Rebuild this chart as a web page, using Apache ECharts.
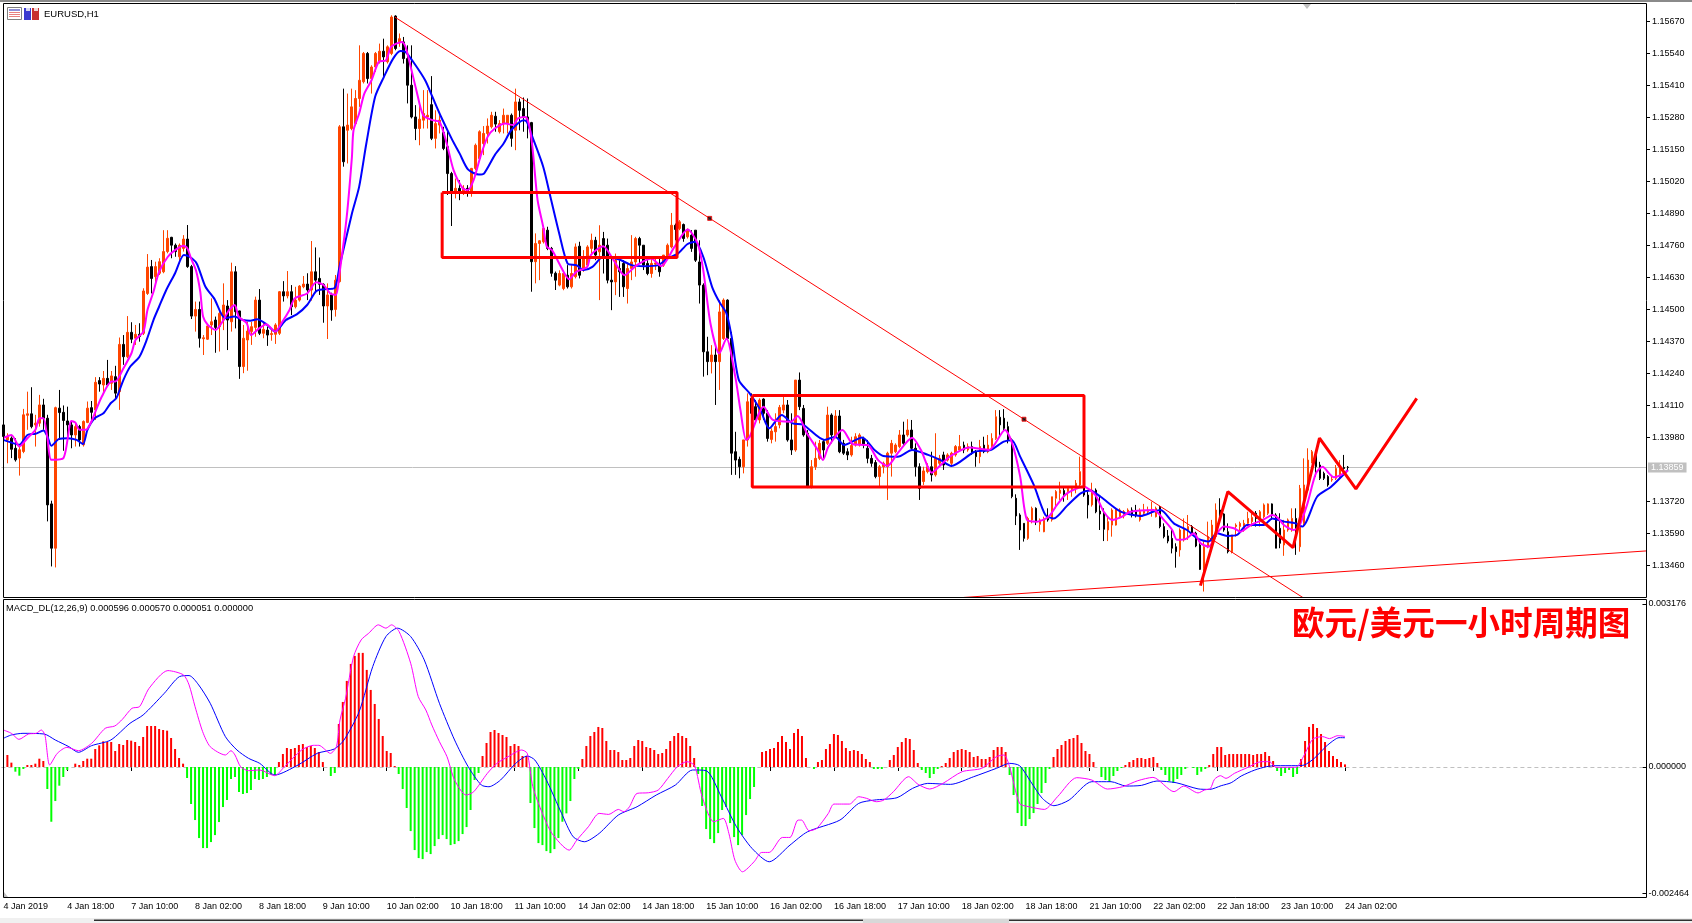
<!DOCTYPE html>
<html>
<head>
<meta charset="utf-8">
<style>html,body{margin:0;padding:0;background:#fff}#chart{width:1692px;height:923px}</style>
<script src="https://cdn.jsdelivr.net/npm/echarts@6/dist/echarts.min.js"></script>
</head>
<body>
<div id="chart"></div>
<script>
// EURUSD H1 candles, in points (1 point = 0.00001): [open, close, low, high]
const candlePoints = [
[114032,113985,113978,114039],[113971,113985,113876,113998],[113978,113933,113897,113985],[113937,113890,113883,113978],[113897,113931,113826,113944],
[113924,114073,113917,114097],[114071,114077,114012,114167],[114077,114025,114018,114185],[114032,114039,113944,114073],[114039,114113,114025,114154],
[114113,114059,114012,114138],[114059,113707,113640,114073],[113711,113531,113457,113724],[113531,114102,113453,114106],[114100,114082,113971,114174],
[114083,114050,113927,114111],[114048,114032,113958,114106],[114032,113991,113937,114046],[113991,114025,113944,114039],[114025,113971,113944,114032],
[113951,114046,113944,114050],[114042,114100,114039,114127],[114102,114083,114046,114129],[114093,114205,114052,114226],[114212,114198,114167,114226],
[114194,114221,114161,114251],[114221,114194,114188,114296],[114201,114231,114174,114251],[114228,114161,114140,114272],[114167,114359,114093,114387],
[114359,114309,114276,114397],[114309,114408,114303,114474],[114408,114380,114364,114449],[114384,114400,114357,114438],[114400,114391,114370,114445],
[114404,114576,114397,114587],[114566,114673,114560,114726],[114675,114627,114566,114702],[114634,114675,114607,114695],[114648,114695,114641,114709],
[114654,114736,114648,114823],[114736,114790,114729,114823],[114794,114762,114709,114796],[114762,114736,114715,114769],[114715,114762,114688,114769],
[114749,114787,114736,114803],[114787,114675,114670,114844],[114675,114474,114462,114682],[114474,114501,114411,114533],[114501,114384,114346,114533],
[114382,114386,114316,114397],[114380,114434,114377,114438],[114438,114451,114397,114546],[114458,114428,114325,114472],[114431,114485,114330,114492],
[114458,114519,114417,114607],[114515,114458,114336,114539],[114451,114654,114411,114691],[114654,114492,114424,114677],[114495,114269,114219,114496],
[114269,114384,114242,114438],[114377,114413,114252,114451],[114411,114431,114357,114451],[114428,114539,114390,114553],[114539,114404,114397,114584],
[114404,114420,114384,114451],[114417,114397,114353,114431],[114399,114403,114374,114417],[114400,114438,114361,114445],[114404,114573,114397,114576],
[114573,114556,114533,114616],[114556,114573,114546,114657],[114573,114512,114478,114600],[114512,114539,114505,114593],[114539,114596,114533,114600],
[114593,114604,114587,114637],[114604,114580,114539,114648],[114580,114654,114537,114779],[114654,114620,114573,114753],[114627,114603,114560,114712],
[114603,114515,114447,114607],[114515,114560,114381,114607],[114560,114499,114455,114569],[114501,114620,114472,114641],[114614,115243,114610,115250],
[115243,115101,115081,115398],[115229,115250,115094,115378],[115236,115324,115229,115398],[115256,115358,115250,115392],[115358,115432,115324,115574],
[115426,115541,115419,115547],[115541,115439,115419,115547],[115439,115486,115378,115493],[115486,115541,115466,115547],[115507,115550,115500,115581],
[115550,115527,115446,115601],[115507,115568,115500,115574],[115541,115689,115534,115696],[115693,115561,115554,115696],[115588,115601,115568,115622],
[115588,115520,115500,115608],[115520,115412,115338,115574],[115412,115283,115277,115574],[115283,115236,115189,115331],[115236,115274,115168,115331],
[115270,115297,115236,115392],[115283,115290,115236,115392],[115333,115196,115189,115449],[115196,115256,115155,115310],[115250,115270,115216,115290],
[115220,115155,115148,115243],[115162,115053,114966,115229],[115053,114979,114840,115060],[114979,114993,114952,115033],[114993,114979,114945,115026],
[114979,114993,114966,115006],[114993,114982,114959,115006],[114979,115074,114959,115076],[115074,115168,115067,115175],[115114,115223,115108,115229],
[115175,115216,115128,115246],[115216,115246,115175,115277],[115243,115290,115236,115304],[115286,115254,115223,115304],[115223,115256,115216,115270],
[115256,115290,115216,115317],[115256,115290,115216,115290],[115290,115196,115162,115297],[115229,115344,115148,115398],[115344,115310,115229,115358],
[115317,115283,115223,115362],[115283,115263,115196,115358],[115260,114695,114573,115263],[114695,114769,114607,114810],[114769,114780,114620,114783],
[114776,114830,114769,114837],[114823,114749,114742,114837],[114749,114648,114634,114755],[114648,114620,114580,114655],[114600,114647,114595,114660],
[114586,114647,114579,114654],[114640,114593,114586,114681],[114593,114647,114586,114681],[114634,114755,114627,114769],[114758,114640,114627,114776],
[114661,114715,114654,114742],[114681,114755,114674,114762],[114749,114782,114722,114809],[114782,114722,114701,114796],[114735,114762,114539,114843],
[114789,114715,114647,114816],[114762,114620,114607,114789],[114620,114613,114498,114708],[114613,114701,114559,114728],[114667,114654,114552,114701],
[114688,114593,114552,114701],[114586,114667,114525,114688],[114667,114694,114620,114803],[114694,114789,114634,114796],[114789,114762,114688,114796],
[114762,114681,114661,114762],[114688,114647,114640,114701],[114647,114688,114630,114715],[114685,114690,114661,114715],[114688,114654,114634,114708],
[114681,114722,114674,114722],[114717,114762,114708,114769],[114755,114843,114749,114893],[114843,114826,114782,114850],[114830,114857,114823,114864],
[114846,114789,114776,114850],[114796,114826,114789,114830],[114803,114749,114735,114823],[114823,114701,114694,114823],[114694,114600,114525,114782],
[114600,114329,114228,114607],[114329,114289,114234,114390],[114289,114316,114241,114356],[114316,114289,114113,114349],[114289,114491,114174,114539],
[114383,114539,114377,114546],[114539,114383,114377,114542],[114383,113917,113829,114410],[113923,113889,113829,114004],[113892,113862,113815,113903],
[113862,113971,113835,113971],[113971,114126,113944,114160],[114140,114079,114038,114160],[114106,114052,114045,114133],[114052,114133,114038,114140],
[114137,114079,114052,114140],[114079,113977,113964,114092],[113973,114007,113957,114018],[114004,114025,113964,114079],[114032,114103,114018,114113],
[114092,114113,114079,114147],[114113,113971,113964,114133],[113971,113930,113910,114079],[113930,114214,113923,114214],[114214,114106,114092,114245],
[114099,113991,113984,114113],[113998,113781,113775,114011],[113781,113862,113774,113889],[113862,113896,113849,113964],[113896,113957,113889,113971],
[113964,113930,113896,113971],[113957,114072,113950,114106],[114072,113991,113957,114079],[113984,114068,113977,114092],[114068,113923,113917,114092],
[113957,113917,113910,113971],[113923,113910,113889,113937],[113910,113948,113903,113984],[113950,113984,113944,113998],[113950,113991,113944,113998],
[113977,113950,113937,113984],[113937,113896,113876,113971],[113896,113876,113862,113910],[113879,113822,113815,113889],[113822,113862,113781,113869],
[113862,113876,113835,113883],[113862,113917,113727,113923],[113917,113957,113822,113971],[113923,113950,113917,113957],[113944,113991,113937,114011],
[113991,113957,113944,114045],[113991,114011,113984,114055],[114011,113937,113930,114052],[113937,113862,113822,113957],[113862,113774,113727,113876],
[113802,113845,113788,113862],[113842,113862,113835,113876],[113862,113829,113802,113923],[113829,113896,113822,113998],[113876,113896,113862,113910],
[113910,113869,113849,113923],[113889,113910,113883,113917],[113876,113917,113862,113923],[113910,113944,113903,113950],[113930,113944,113923,113991],
[113950,113930,113917,113964],[113930,113944,113923,113957],[113944,113917,113910,113964],[113923,113903,113862,113930],[113903,113944,113876,113971],
[113950,113923,113917,113984],[113923,113950,113917,113991],[113944,113977,113937,113998],[113977,114065,113971,114092],[114063,114032,113984,114092],
[114059,114018,114011,114096],[114025,113971,113957,114045],[113971,113741,113734,113977],[113734,113662,113625,113750],[113666,113605,113524,113673],
[113632,113571,113558,113632],[113571,113652,113565,113659],[113646,113693,113632,113700],[113693,113639,113625,113697],[113628,113646,113598,113652],
[113598,113652,113596,113659],[113652,113646,113639,113693],[113646,113740,113639,113740],[113734,113761,113693,113767],[113754,113767,113727,113801],
[113765,113747,113720,113781],[113761,113774,113727,113781],[113765,113774,113740,113781],[113774,113795,113754,113808],[113788,113842,113781,113903],
[113842,113747,113740,113849],[113747,113707,113652,113761],[113707,113767,113700,113797],[113767,113679,113673,113774],[113682,113670,113605,113740],
[113673,113608,113560,113693],[113605,113639,113560,113659],[113625,113686,113578,113693],[113625,113689,113623,113693],[113659,113686,113652,113693],
[113662,113680,113652,113686],[113673,113686,113666,113693],[113686,113666,113656,113697],[113680,113666,113656,113707],[113646,113680,113639,113693],
[113673,113686,113666,113711],[113679,113686,113673,113700],[113676,113689,113659,113720],[113659,113693,113656,113700],[113697,113619,113612,113703],
[113619,113578,113571,113632],[113581,113560,113551,113605],[113571,113531,113510,113605],[113537,113517,113452,113551],[113524,113605,113497,113612],
[113565,113612,113558,113652],[113605,113619,113565,113666],[113619,113592,113585,113625],[113592,113540,113535,113598],[113544,113445,113443,113551],
[113450,113537,113355,113564],[113537,113578,113531,113639],[113551,113625,113544,113646],[113578,113686,113571,113713],[113686,113656,113646,113734],
[113670,113605,113598,113673],[113598,113517,113510,113632],[113517,113585,113510,113585],[113619,113625,113578,113632],[113619,113632,113592,113639],
[113605,113632,113598,113646],[113632,113652,113625,113679],[113639,113656,113619,113673],[113673,113652,113619,113682],[113639,113679,113619,113686],
[113659,113707,113652,113713],[113673,113711,113666,113713],[113711,113666,113646,113713],[113666,113531,113531,113673],[113612,113551,113531,113673],
[113544,113605,113500,113646],[113605,113646,113598,113652],[113605,113652,113598,113693],[113652,113605,113504,113693],[113537,113774,113517,113788],
[113632,113788,113625,113896],[113767,113889,113761,113937],[113882,113923,113876,113930],[113916,113862,113822,113930],[113869,113815,113808,113882],
[113835,113815,113808,113842],[113822,113788,113781,113828],[113808,113811,113801,113828],[113815,113855,113808,113869],[113822,113855,113815,113889],
[113859,113855,113835,113910],[113860,113859,113842,113865]
];

// Fast moving average, [bar index, price in points]
const fastAverage = [
[0,113978],[2,113991],[4,113944],[6,113978],[8,114012],[9,114059],[10,114059],[11,113978],[12,113890],[15,113897],[17,114048],[18,114041],[19,114012],[20.6,114012],[22,114046],[23,114086],[24.6,114147],[27,114208],[28,114208],[30,114262],[32,114323],[33,114377],[35,114411],[36,114499],[37.5,114573],
[38.9,114654],[41.1,114715],[42.9,114742],[45,114760],[46,114749],[46.9,114708],[48.1,114661],[49.2,114573],[49.9,114472],[51.1,114438],[53,114418],[55,114458],[56.3,114496],[57.8,114519],[58.8,114472],[60.8,114445],[61.9,114397],[63.9,114424],[65.7,114441],[67.9,114411],[69.7,114451],[71.5,114499],[72.8,114546],[75.9,114566],
[78.2,114611],[80,114600],[81.7,114566],[83.1,114560],[84,114648],[85.8,114878],[87.1,115121],[87.5,115229],[88.9,115297],[90.2,115378],[92,115432],[93.8,115507],[95.6,115513],[96.9,115568],[99.6,115588],[100.5,115568],[101.8,115486],[103.2,115392],[104.9,115290],[107.2,115270],[109,115263],[110.8,115175],[112.5,115067],[114.8,114993],[116.1,114986],[117.5,115026],[119.2,115121],[121,115202],[122.8,115236],[125.5,115256],[127.3,115250],[128.6,115277],[130.4,115283],[131.3,115256],[132.2,115162],[133.5,114945],[134.9,114837],[135.8,114756],[137.1,114742],[138.9,114688],
[141.4,114624],[143.2,114654],[145.9,114674],[146.8,114722],[149.9,114758],[152.5,114701],[155.2,114640],[158.3,114681],[161.9,114708],[164.4,114677],[167.7,114755],[171,114826],[173.5,114769],[174.9,114661],[176.7,114444],[178.9,114322],[180.7,114383],[182.9,114228],[184.2,114092],[185.6,113971],[186.5,113984],[190,114106],[192.3,114052],[196.8,114045],[198.5,114068],[200.8,113998],[203.5,113930],[204.8,113889],[206.2,113944],[209.7,114011],[212.4,113953],[216,113950],[218.6,113889],[220.9,113865],[223.5,113917],[227.1,113980],[229.3,113930],[232,113838],[233.8,113862],[236.5,113903],[241.4,113940],[246.3,113930],[250.3,114011],[252.1,113957],[254.1,113822],
[255.8,113646],[258.3,113639],[261.2,113659],[263.3,113707],[265.8,113754],[270,113781],[272.9,113747],[275,113679],[277.1,113646],[279.2,113656],[281.7,113679],[287.5,113686],[290,113646],[292.1,113605],[293.3,113565],[295.4,113568],[297.5,113592],[299.2,113551],[301.2,113537],[303.3,113592],[305,113619],[307.5,113612],[309.2,113598],[311.7,113625],[315,113648],[317.1,113666],[318.4,113656],[320,113625],[322.5,113605],[323.8,113619],[325.9,113713],[328,113835],[329.7,113862],[331.3,113835],[332.5,113819],[334.2,113828],[336,113846]
];

// Slow moving average, [bar index, price in points]
const slowAverage = [
[0,113971],[2,113960],[4,113951],[6,113991],[8,113996],[10,114009],[11,113985],[12,113947],[13.9,113975],[16.1,113978],[18.3,113971],[19.9,113954],[21,114012],[22.8,114059],[25,114079],[26.8,114120],[28.2,114140],[30,114215],[31.7,114269],[34,114309],[35.8,114377],[37.5,114458],[38.9,114512],[40.7,114580],[42.9,114648],[45.1,114722],[46.5,114715],[48.3,114688],[50.5,114593],[52.7,114545],[55.4,114465],[57.7,114472],[59.9,114458],[61.7,114455],[63.4,114461],[65.7,114441],[67.9,114411],[70.6,114458],[73.3,114481],[75.9,114519],[78.2,114576],[80,114583],[82.7,114587],[84,114675],[87.1,114891],[88.9,114999],[90.7,115175],[92.9,115365],[95.1,115446],[97.4,115520],[99.2,115551],[100.5,115547],[102.7,115500],[105.4,115432],[107.2,115365],[109.4,115283],[112.2,115189],[114,115135],[116.1,115070],[118.8,115049],[120.1,115053],[122.8,115128],[125,115175],[126.9,115229],[130,115270],[130.8,115263],[132.2,115202],[134.9,115081],[136.7,114959],[138.9,114810],
[141,114688],[143.2,114681],[145,114661],[147.2,114674],[149.9,114715],[153.9,114704],[157,114681],[160.1,114677],[163.7,114681],[165.9,114708],[168.6,114728],[170.9,114766],[172.9,114776],[174.9,114715],[177.1,114593],[178.9,114532],[180.7,114485],[182,114390],[183.8,114214],[186.5,114160],[189.2,114092],[191.4,114018],[194.5,114072],[197.2,114038],[199.9,114032],[205.2,113971],[207.9,113984],[210.1,113950],[214.6,113981],[217.7,113930],[219.9,113906],[223.5,113903],[227.1,113930],[231.1,113910],[234.2,113889],[236.9,113865],[242.7,113923],[246.7,113930],[250,113964],[252,113970],
[254.1,113903],[257.5,113788],[260.4,113666],[262.5,113652],[265.8,113703],[269.2,113754],[271.6,113765],[274.2,113740],[279.2,113680],[284.2,113662],[287.5,113680],[289.2,113686],[292.5,113632],[295.8,113605],[298.3,113571],[301.2,113558],[303.3,113592],[305.8,113581],[308.3,113585],[310.8,113625],[315,113625],[317.1,113652],[320,113639],[322.9,113632],[324.6,113619],[328.3,113740],[331.8,113781],[336,113849]
];

// MACD histogram per bar, in millionths
const macdHistogram = [
0,234,85,-91,-169,-39,39,39,65,162,117,-429,-1066,-663,-364,-195,-58,0,65,39,117,162,162,351,422,500,487,487,312,448,429,526,513,487,409,585,799,799,799,741,721,708,565,351,175,65,-214,-721,-1033,-1384,
-1579,-1579,-1462,-1326,-1072,-780,-643,-234,-195,-487,-526,-507,-448,-234,-253,-234,-195,-156,-156,97,253,370,351,370,429,448,390,409,370,292,97,0,-175,-117,838,1267,1677,2008,2164,2223,2223,1891,1501,1228,936,604,312,273,19,-136,
-429,-799,-1248,-1618,-1774,-1794,-1657,-1696,-1540,-1404,-1326,-1404,-1521,-1501,-1443,-1306,-1170,-838,-253,-117,214,468,682,721,663,624,585,409,448,409,214,214,-702,-1189,-1482,-1521,-1638,-1677,-1599,-1384,-1066,-903,-663,-234,-39,156,409,604,682,780,
760,507,331,331,292,136,136,175,409,526,507,390,370,331,253,273,351,507,604,663,604,565,409,175,-136,-760,-1209,-1404,-1482,-1287,-838,-780,-1092,-1365,-1521,-1326,-936,-624,-390,0,292,312,351,370,487,604,487,351,663,741,
604,175,0,-39,97,136,351,448,643,624,507,370,312,331,312,253,156,97,-39,-39,-39,0,136,234,390,487,565,546,331,78,-58,-117,-214,-136,-39,19,78,175,292,331,351,331,292,195,214,156,156,195,331,390,
390,292,-156,-546,-897,-1150,-1150,-1014,-897,-721,-507,-312,-39,195,351,429,507,546,565,624,468,312,253,97,0,-195,-253,-292,-175,-78,-19,39,97,136,175,175,156,175,195,78,-58,-156,-273,-312,-234,-156,-39,0,-19,-156,
-91,-39,39,253,390,390,234,253,253,253,253,253,253,234,253,253,292,214,117,-78,-175,-117,-58,-195,-136,156,507,780,838,760,643,487,312,214,156,97,51
];

// MACD main line, [bar index, millionths]
const macdMain = [
[0,721],[2,656],[3.9,539],[6.3,643],[8.2,656],[9.5,721],[10.4,624],[11.6,39],[13.5,266],[15.9,383],[18.8,318],[22.1,461],[25.5,754],[27.9,799],[29.8,929],[32.2,1144],[34.1,1176],[36.5,1534],[41.2,1878],[45.1,1794],[46.5,1599],[48,1176],[49.9,689],[51.8,396],[55.6,234],[57,318],[58,234],[59.4,6],[61.4,-71],[64.2,-58],[67.9,-169],[70.4,6],[74.7,331],[77.6,422],[79,422],[81.9,266],[83.4,396],[84.3,916],[85.7,1339],[87.7,2151],[89.6,2476],[91.5,2606],[93.9,2769],[95.8,2704],[97.2,2769],[99.1,2639],[102,2021],[103.9,1371],[105.8,1111],[107.3,819],[109.2,494],[111.1,201],[113,-254],[115.9,-546],[117.8,-481],[121.2,-124],[123.6,71],[126.4,201],[129.8,331],[131.2,266],[132.6,-384],[135,-904],[137.4,-1294],[141.7,-1619],[143.6,-1424],[146.5,-1164],[149.2,-904],
[151.6,-923],[154,-826],[155.4,-871],[156.8,-774],[158.7,-514],[161.6,-501],[164,-449],[166.4,-221],[168.8,6],[171.2,104],[173.1,26],[175,-579],[177.9,-1066],[180.3,-1001],[181.7,-1294],[183.2,-1814],[185.1,-2041],[188,-1846],[189.9,-1664],[191.8,-1664],[195.1,-1372],[197,-1372],[199,-1034],[199.9,-1034],[201.8,-1242],[203.7,-1196],[206.6,-904],[208,-722],[211.9,-722],[214.2,-579],[216.2,-611],[218.6,-676],[220.5,-644],[222.9,-481],[226.7,-189],[229.1,-338],[232,-429],[235.3,-319],[240.1,-91],[245,-26],[248.7,201],[250.6,234],[252,6],[254.5,-709],[256.9,-774],[260.7,-826],[264,-579],[268.8,-208],[272.6,-254],[276.5,-429],[280.3,-384],[284.1,-267],[287.9,-202],[293.2,-481],[295.6,-371],[299.2,-505],
[300.8,-449],[302.3,-416],[303.3,-241],[304.8,-169],[306.2,-221],[308.3,-124],[311.7,-6],[315,104],[317.1,104],[318.7,-6],[321.6,-6],[323.7,-6],[325.8,234],[327.9,540],[330.4,592],[332.1,553],[334.2,611],[336,596]
];

// MACD signal line, [bar index, millionths]
const macdSignal = [
[0,559],[2,624],[4.9,656],[10.2,643],[13,526],[16.4,396],[18.8,286],[22.1,416],[26.9,526],[31.7,851],[35,1014],[40.3,1436],[44.1,1761],[46.5,1781],[48.9,1599],[51.8,1241],[55.6,591],[58.5,331],[61.4,169],[64.2,71],[68,-156],[73.8,39],[78.6,266],[82.9,351],[85.3,526],[89.1,1079],[92.5,1956],[95.8,2541],[98.7,2704],[102,2541],[105.4,2086],[109.2,1241],[113,526],[116.4,6],[119.7,-351],[121.6,-384],[124.5,-254],[128.3,71],[131.2,214],[133.1,136],[136,-254],[139.8,-904],[142.7,-1359],[145.5,-1456],[149.2,-1294],
[154,-936],[158.7,-774],[163.5,-546],[168.3,-351],[172.6,-58],[176,-71],[179.8,-579],[183.6,-1164],[187.5,-1586],[191.8,-1846],[197,-1521],[201.4,-1261],[209.5,-1034],[214.2,-709],[218.1,-644],[223.8,-598],[227.7,-416],[231.5,-319],[237.2,-338],[243,-189],[248.7,-26],[252,71],[254.5,26],[257.3,-286],[260.2,-611],[263.1,-754],[266.9,-644],[272.6,-286],[277.4,-286],[281.2,-371],[285,-358],[288.9,-273],[293.7,-306],[299.2,-426],
[302.1,-436],[305,-364],[307.5,-306],[310,-176],[313.4,-59],[316.3,6],[318.7,26],[323.7,26],[325.8,39],[328.3,169],[331.2,397],[333.3,527],[334.5,572],[336,570]
];

// Hand-drawn objects on the price pane, [bar index, price in points]
const mainTrend = [[97.8,115689],[325,113328]];
const supportTrend = [[240,113331],[410.6,113520]];
const trendAnchors = [[176.5,114871],[255.05,114055]];
const rangeBoxUpper = [[109.65,114976],[168.35,114976],[168.35,114712],[109.65,114712],[109.65,114976]];
const rangeBoxLower = [[187.15,114151],[270.05,114151],[270.05,113780],[187.15,113780],[187.15,114151]];
const projection = [[299.15,113379],[306,113761],[322.3,113533],[328.9,113978],[338,113772],[353.2,114140]];

const priceTicks = [1.1567,1.1554,1.1541,1.1528,1.1515,1.1502,1.1489,1.1476,1.1463,1.145,1.1437,1.1424,1.1411,1.1398,1.1372,1.1359,1.1346];
const lastPrice = 1.13859;
const macdTicks = [0.003176,0,-0.002464];
const timeLabels = ['4 Jan 2019','4 Jan 18:00','7 Jan 10:00','8 Jan 02:00','8 Jan 18:00','9 Jan 10:00','10 Jan 02:00','10 Jan 18:00','11 Jan 10:00','14 Jan 02:00','14 Jan 18:00','15 Jan 10:00','16 Jan 02:00','16 Jan 18:00','17 Jan 10:00','18 Jan 02:00','18 Jan 18:00','21 Jan 10:00','22 Jan 02:00','22 Jan 18:00','23 Jan 10:00','24 Jan 02:00'];

const BAR_SLOTS = 411, LABEL_STEP = 16;
const slots = Array.from({length: BAR_SLOTS}, (_, i) => String(i));
const pt = p => p / 1e5;
const asPrice = rows => rows.map(r => [r[0], r[1] / 1e5]);
const asMacd = rows => rows.map(r => [r[0], r[1] / 1e6]);
const showSlot = i => i % LABEL_STEP === 0 && i / LABEL_STEP < timeLabels.length;

const UI_FONT = '"Liberation Sans", Arial, sans-serif';
const UI_SIZE = 9;
const ink = '#000000', bull = '#FF4500', redLine = '#FF0000';

const overlay = (name, rows, width, extra) => Object.assign({
  name, type: 'line', xAxisIndex: 2, yAxisIndex: 0, data: asPrice(rows), showSymbol: false, symbol: 'none',
  silent: true, clip: true, lineStyle: {color: redLine, width}, z: 6
}, extra || {});
const curve = (name, rows, color, width, xi, yi, conv, z) => ({
  name, type: 'line', xAxisIndex: xi, yAxisIndex: yi, data: conv(rows), showSymbol: false, symbol: 'none',
  smooth: 0.25, silent: true, clip: true, lineStyle: {color, width}, z
});

const chart = echarts.init(document.getElementById('chart'), null, {renderer: 'canvas'});
const plotLeft = 1.4, plotWidth = 1644.6;

chart.setOption({
  animation: false,
  backgroundColor: '#ffffff',
  textStyle: {fontFamily: UI_FONT},
  grid: [
    {left: plotLeft, width: plotWidth, top: 4, height: 593},
    {left: plotLeft, width: plotWidth, top: 600, height: 297}
  ],
  xAxis: [
    {type: 'category', gridIndex: 0, data: slots, axisLine: {show: false}, axisTick: {show: false}, axisLabel: {show: false}, splitLine: {show: false}},
    {type: 'category', gridIndex: 1, data: slots, axisLine: {show: false},
      axisTick: {show: true, length: 4, alignWithLabel: true, interval: showSlot, lineStyle: {color: ink}},
      axisLabel: {show: true, interval: showSlot, align: 'left', margin: 5, color: ink, fontSize: UI_SIZE, fontFamily: UI_FONT,
        formatter: (v, i) => timeLabels[i / LABEL_STEP] || ''},
      splitLine: {show: false}},
    {type: 'value', gridIndex: 0, min: -0.5, max: BAR_SLOTS - 0.5, show: false},
    {type: 'value', gridIndex: 1, min: -0.5, max: BAR_SLOTS - 0.5, show: false}
  ],
  yAxis: [
    {type: 'value', gridIndex: 0, position: 'right', min: 1.133328, max: 1.157419, splitLine: {show: false},
      axisLine: {show: false, onZero: false},
      axisTick: {show: true, length: 4, customValues: priceTicks, lineStyle: {color: ink}},
      axisLabel: {show: true, customValues: priceTicks, margin: 6, color: ink, fontSize: UI_SIZE, fontFamily: UI_FONT, formatter: v => v.toFixed(5)}},
    {type: 'value', gridIndex: 1, position: 'right', min: -0.002532, max: 0.003253, splitLine: {show: false},
      axisLine: {show: false, onZero: false},
      axisTick: {show: true, length: 4, customValues: macdTicks, lineStyle: {color: ink}},
      axisLabel: {show: true, customValues: macdTicks, margin: 6, color: ink, fontSize: UI_SIZE, fontFamily: UI_FONT, formatter: v => v.toFixed(6)}}
  ],
  series: [
    {name: 'EURUSD', type: 'candlestick', xAxisIndex: 0, yAxisIndex: 0, barWidth: 2, silent: true, z: 3,
      data: candlePoints.map(r => r.map(pt)),
      itemStyle: {color: bull, color0: ink, borderColor: bull, borderColor0: ink, borderWidth: 1},
      markLine: {silent: true, symbol: 'none', animation: false, precision: 5, z: 2,
        lineStyle: {color: '#c0c0c0', width: 1, type: 'solid'},
        data: [{yAxis: lastPrice}],
        label: {show: true, position: 'end', distance: 2, color: '#ffffff', backgroundColor: '#c0c0c0', padding: [1, 3, 0, 3],
          fontSize: UI_SIZE, fontFamily: UI_FONT, formatter: () => lastPrice.toFixed(5)}}},
    curve('Slow MA', slowAverage, '#0000FF', 2, 2, 0, asPrice, 4),
    curve('Fast MA', fastAverage, '#FF00FF', 2, 2, 0, asPrice, 5),
    overlay('Trend', mainTrend, 1),
    overlay('Support', supportTrend, 1),
    overlay('Upper range', rangeBoxUpper, 3),
    overlay('Lower range', rangeBoxLower, 3),
    overlay('Projection', projection, 3),
    {name: 'Anchors', type: 'scatter', xAxisIndex: 2, yAxisIndex: 0, data: asPrice(trendAnchors), symbol: 'rect', symbolSize: 4, silent: true, z: 7,
      itemStyle: {color: '#000000', borderColor: redLine, borderWidth: 1}},
    {name: 'MACD histogram', type: 'bar', xAxisIndex: 1, yAxisIndex: 1, barWidth: 2, silent: true, z: 3,
      data: macdHistogram.map(v => v / 1e6),
      itemStyle: {color: p => p.value >= 0 ? '#FF0000' : '#00FF00'},
      markLine: {silent: true, symbol: 'none', animation: false, label: {show: false}, z: 2,
        lineStyle: {color: '#c0c0c0', width: 1, type: [4, 3]},
        data: [{yAxis: 0}]}},
    curve('MACD signal', macdSignal, '#0000FF', 1, 3, 1, asMacd, 5),
    curve('MACD main', macdMain, '#FF00FF', 1, 3, 1, asMacd, 6)
  ],
  graphic: [
    // terminal chrome: top band, pane frames and tab strip
    {type: 'rect', z: 50, silent: true, shape: {x: 0, y: 0, width: 1692, height: 2}, style: {fill: '#8a8a8a'}},
    {type: 'rect', z: 50, silent: true, shape: {x: 3.5, y: 3.5, width: 1643, height: 594}, style: {fill: 'none', stroke: ink, lineWidth: 1}},
    {type: 'rect', z: 50, silent: true, shape: {x: 3.5, y: 599.5, width: 1643, height: 298}, style: {fill: 'none', stroke: ink, lineWidth: 1}},
    {type: 'polygon', z: 50, silent: true, shape: {points: [[1303, 4], [1311, 4], [1307, 9]]}, style: {fill: '#c0c0c0'}},
    {type: 'polygon', z: 50, silent: true, shape: {points: [[4, 897], [8, 897], [4, 892]]}, style: {fill: '#c0c0c0'}},
    {type: 'rect', z: 50, silent: true, shape: {x: 0, y: 918, width: 1692, height: 5}, style: {fill: '#f0f0f0'}},
    {type: 'rect', z: 51, silent: true, shape: {x: 94, y: 919.5, width: 1598, height: 1.5}, style: {fill: '#303030'}},
    {type: 'rect', z: 52, silent: true, shape: {x: 863, y: 919, width: 146, height: 4}, style: {fill: '#d8d8d8'}},
    // chart-window icons next to the symbol caption
    {type: 'rect', z: 50, silent: true, shape: {x: 7.5, y: 7.5, width: 14, height: 12}, style: {fill: '#ffffff', stroke: '#808080', lineWidth: 1}},
    {type: 'rect', z: 51, silent: true, shape: {x: 9, y: 9, width: 11, height: 2}, style: {fill: '#9090d8'}},
    {type: 'rect', z: 51, silent: true, shape: {x: 9, y: 12, width: 11, height: 1}, style: {fill: '#e88080'}},
    {type: 'rect', z: 51, silent: true, shape: {x: 9, y: 14, width: 11, height: 1}, style: {fill: '#e88080'}},
    {type: 'rect', z: 51, silent: true, shape: {x: 9, y: 16, width: 11, height: 1}, style: {fill: '#e88080'}},
    {type: 'rect', z: 50, silent: true, shape: {x: 24, y: 8, width: 7, height: 12}, style: {fill: '#3a3ad0'}},
    {type: 'rect', z: 50, silent: true, shape: {x: 32, y: 8, width: 7, height: 12}, style: {fill: '#c83030'}},
    {type: 'rect', z: 51, silent: true, shape: {x: 26, y: 8, width: 4, height: 3}, style: {fill: '#d8d8f0'}},
    {type: 'rect', z: 51, silent: true, shape: {x: 34, y: 8, width: 4, height: 3}, style: {fill: '#f0d8d8'}},
    // captions
    {type: 'text', z: 60, silent: true, x: 44, y: 9, style: {text: 'EURUSD,H1', fill: ink, font: '9.5px ' + UI_FONT}},
    {type: 'text', z: 60, silent: true, x: 6, y: 604, style: {text: 'MACD_DL(12,26,9) 0.000596 0.000570 0.000051 0.000000', fill: ink, font: '9.3px ' + UI_FONT}},
    {type: 'text', z: 60, silent: true, x: 1292, y: 606.5, style: {text: '欧元/美元一小时周期图', fill: '#FF0000',
      font: 'bold 32.6px "Noto Sans CJK SC", sans-serif', shadowColor: '#000060', shadowOffsetX: 1, shadowOffsetY: 1, shadowBlur: 0}}
  ]
});
</script>
</body>
</html>
